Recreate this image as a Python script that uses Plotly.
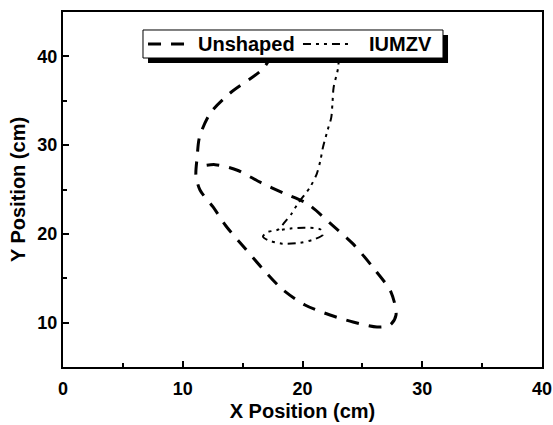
import plotly.graph_objects as go

# Trajectory of the payload in the horizontal plane (cm)
unshaped_x = [17.5, 16.7, 13.9, 12.3, 11.4, 11.2, 11.1, 11.44, 12.53, 13.61, 15.03, 16.62,
              18.29, 20.21, 22.30, 24.22, 26.22, 27.31, 27.81, 27.39, 25.9, 24.2, 22.3, 20.4,
              18.4, 16.5, 14.5, 12.7, 11.4]
unshaped_y = [40.3, 38.6, 35.8, 33.6, 30.9, 28.6, 26.6, 24.94, 23.03, 20.89, 18.63, 16.15,
              13.79, 11.99, 10.86, 10.07, 9.51, 9.73, 10.86, 13.45, 16.2, 18.9, 21.2, 23.4,
              24.6, 25.8, 27.2, 27.8, 27.6]

iumzv_x = [23.05, 22.96, 22.6, 22.5, 22.4, 22.1, 21.7, 21.5, 21.2, 20.6, 19.6, 19.1, 18.5,
           18.0, 17.1, 16.7, 17.1, 18.3, 19.8, 21.0, 21.7, 21.5, 20.2, 19.0, 18.0]
iumzv_y = [40.0, 38.6, 36.5, 34.7, 33.1, 31.7, 29.7, 28.3, 26.8, 25.2, 23.4, 22.3, 21.3,
           20.5, 20.2, 19.7, 19.3, 18.9, 19.0, 19.4, 19.9, 20.5, 20.7, 20.6, 20.4]

x_ticks = [0, 10, 20, 30, 40]
y_ticks = [10, 20, 30, 40]

FONT = "Liberation Sans"
UNSHAPED_DASH = "13px,10px"
IUMZV_DASH = "8px,5px,3px,5px,3px,5px"

fig = go.Figure()
fig.add_trace(go.Scatter(
    x=unshaped_x, y=unshaped_y, mode="lines", name="Unshaped", showlegend=False,
    line=dict(color="black", width=3, dash=UNSHAPED_DASH, shape="spline", smoothing=0.8),
))
fig.add_trace(go.Scatter(
    x=iumzv_x, y=iumzv_y, mode="lines", name="IUMZV", showlegend=False,
    line=dict(color="black", width=2, dash=IUMZV_DASH, shape="spline", smoothing=0.8),
))

axis_common = dict(
    showline=True, linecolor="black", linewidth=2, mirror=True,
    ticks="inside", ticklen=6, tickwidth=2, tickcolor="black",
    showgrid=False, zeroline=False, automargin=False,
    tickfont=dict(family=FONT, size=18, color="black", weight="bold"),
    minor=dict(ticks="inside", ticklen=4, tickwidth=2, tickcolor="black", dtick=5),
)
title_font = dict(family=FONT, size=20, color="black", weight="bold")

fig.update_xaxes(range=[0, 40], tickvals=x_ticks, ticklabelstandoff=4, **axis_common,
                 title=dict(text="X Position (cm)", standoff=6, font=title_font))
fig.update_yaxes(range=[5, 45], tickvals=y_ticks, **axis_common,
                 title=dict(text="Y Position (cm)", standoff=6, font=title_font))

# Key box with drop shadow, drawn in paper coordinates
key_y = 0.910
fig.add_shape(type="rect", xref="paper", yref="paper",
              x0=0.1775, x1=0.8038, y0=0.8563, y1=0.9352,
              fillcolor="black", line=dict(width=0), layer="above")
fig.add_shape(type="rect", xref="paper", yref="paper",
              x0=0.1670, x1=0.7933, y0=0.8704, y1=0.9493,
              fillcolor="white", line=dict(color="black", width=1), layer="above")
fig.add_shape(type="line", xref="paper", yref="paper",
              x0=0.1775, x1=0.2610, y0=key_y, y1=key_y,
              line=dict(color="black", width=3, dash=UNSHAPED_DASH), layer="above")
fig.add_shape(type="line", xref="paper", yref="paper",
              x0=0.5010, x1=0.5950, y0=key_y, y1=key_y,
              line=dict(color="black", width=2, dash=IUMZV_DASH), layer="above")
fig.add_annotation(text="Unshaped", xref="paper", yref="paper", x=0.278, y=key_y,
                   xanchor="left", yanchor="middle", showarrow=False,
                   font=dict(family=FONT, size=20, color="black", weight="bold"))
fig.add_annotation(text="IUMZV", xref="paper", yref="paper", x=0.634, y=key_y,
                   xanchor="left", yanchor="middle", showarrow=False,
                   font=dict(family=FONT, size=20, color="black", weight="bold"))

fig.update_layout(
    width=553, height=425,
    margin=dict(l=63, r=11, t=12, b=58),
    paper_bgcolor="white", plot_bgcolor="white",
    showlegend=False,
)

fig.write_html("out.html")
